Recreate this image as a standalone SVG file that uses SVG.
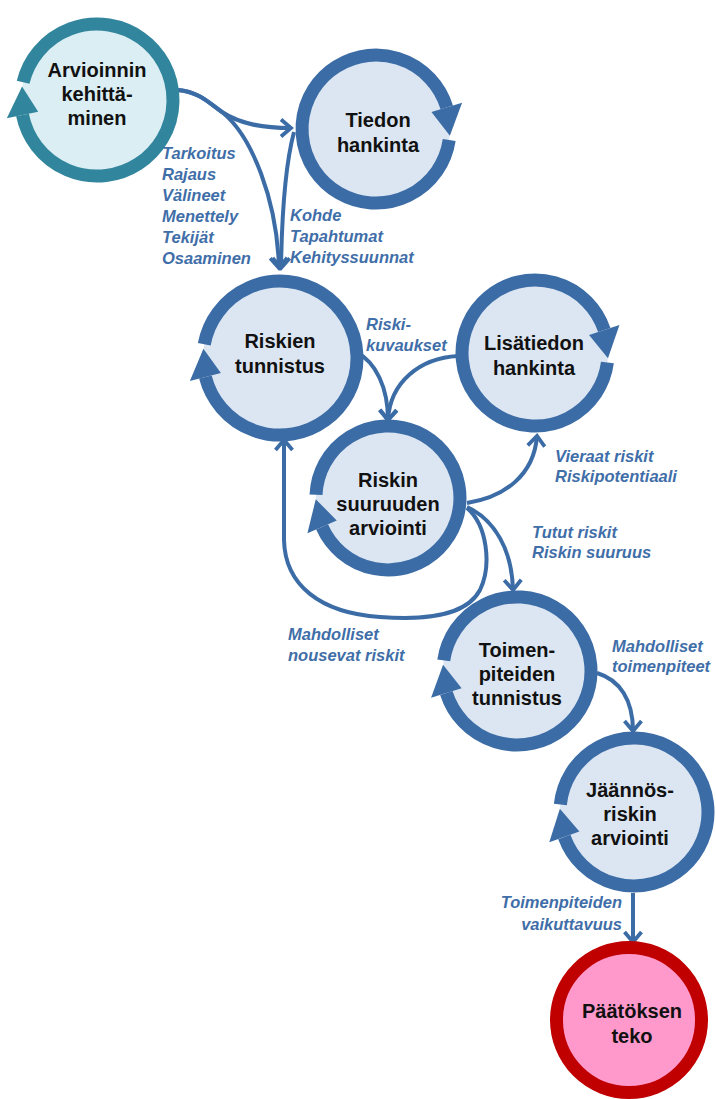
<svg xmlns="http://www.w3.org/2000/svg" width="716" height="1099" viewBox="0 0 716 1099">
  <style>
    .ring { fill: none; stroke-width: 13; }
    .blue { stroke: #3B6CA6; }
    .blue-fill { fill: #3B6CA6; }
    .disc { fill: #DCE6F2; stroke: none; }
    .teal { stroke: #31859C; }
    .teal-fill { fill: #31859C; }
    .node-text { font-family: "Liberation Sans", Arial, sans-serif; font-weight: bold; font-size: 20px; fill: #111; text-anchor: middle; }
    .label { font-family: "Liberation Sans", Arial, sans-serif; font-weight: bold; font-style: italic; font-size: 16.5px; fill: #3F6EA8; }
    .conn { fill: none; stroke: #3B6CA6; stroke-width: 4; stroke-linecap: butt; marker-end: url(#chev); }
  </style>
  <defs>
    <marker id="chev" viewBox="-14 -11 18 22" refX="0" refY="0" markerWidth="18" markerHeight="22" markerUnits="userSpaceOnUse" orient="auto" overflow="visible">
      <path d="M-10,-8.5 L0,0 L-10,8.5" fill="none" stroke="#3B6CA6" stroke-width="3.8" stroke-linejoin="miter"/>
    </marker>
  </defs>

  <rect width="716" height="1099" fill="#fff"/>

  <!-- connectors -->
  <g id="connectors">
    <path class="conn" d="M178,90 C200,92 210,104 222,112 C240,124 262,128 291,128"/>
    <path class="conn" d="M178,90 C200,92 210,104 222,112 C252,136 277,200 279,268"/>
    <path class="conn" d="M294,132 C286,162 282,205 281,268"/>
    <path class="conn" d="M356,352 C376,362 388,388 388,420"/>
    <path class="conn" d="M458,356 C420,358 390,382 388,420"/>
    <path class="conn" d="M467,503 C505,497 534,475 537,436"/>
    <path class="conn" d="M467,507 C495,520 512,550 513,590"/>
    <path class="conn" d="M467,508 C487,525 492,565 480,590 C465,618 420,620 380,617 C320,613 285,585 284,540 L284,440"/>
    <path class="conn" d="M597,673 C620,680 633,700 633,731"/>
    <path class="conn" d="M633,893 L633,942"/>
  </g>

  <!-- Arvioinnin kehittäminen -->
  <g id="node-arvioinnin">
    <circle cx="97" cy="100" r="76" fill="#DBEEF4"/>
    <g transform="translate(97,100) rotate(168.6)">
      <path class="ring teal" stroke-width="12" d="M68.9,32 A76,76 0 1 1 76,0"/>
      <polygon class="teal-fill" points="60,0 92,0 70.8,28"/>
    </g>
    <text class="node-text" x="97" y="77">Arvioinnin</text>
    <text class="node-text" x="97" y="101">kehittä-</text>
    <text class="node-text" x="97" y="125">minen</text>
  </g>

  <!-- Tiedon hankinta -->
  <g id="node-tiedon">
    <circle class="disc" cx="376" cy="129" r="74"/>
    <g transform="translate(376,129) rotate(-17)">
      <path class="ring blue" d="M66.8,31.9 A74,74 0 1 1 74,0"/>
      <polygon class="blue-fill" points="58,0 90,0 68.7,28"/>
    </g>
    <text class="node-text" x="378" y="127">Tiedon</text>
    <text class="node-text" x="378" y="152">hankinta</text>
  </g>

  <!-- Riskien tunnistus -->
  <g id="node-riskien">
    <circle class="disc" cx="280" cy="358" r="77"/>
    <g transform="translate(280,358) rotate(165.7)">
      <path class="ring blue" d="M70,32 A77,77 0 1 1 77,0"/>
      <polygon class="blue-fill" points="61,0 93,0 71.9,28"/>
    </g>
    <text class="node-text" x="280" y="348">Riskien</text>
    <text class="node-text" x="280" y="373">tunnistus</text>
  </g>

  <!-- Lisätiedon hankinta -->
  <g id="node-lisatiedon">
    <circle class="disc" cx="535" cy="353" r="73"/>
    <g transform="translate(535,353) rotate(-18.4)">
      <path class="ring blue" d="M65.7,31.9 A73,73 0 1 1 73,0"/>
      <polygon class="blue-fill" points="57,0 89,0 67.6,28"/>
    </g>
    <text class="node-text" x="534" y="350">Lisätiedon</text>
    <text class="node-text" x="534" y="375">hankinta</text>
  </g>

  <!-- Riskin suuruuden arviointi -->
  <g id="node-riskin">
    <circle class="disc" cx="388" cy="498" r="72"/>
    <g transform="translate(388,498) rotate(156.3)">
      <path class="ring blue" d="M64.6,31.9 A72,72 0 1 1 72,0"/>
      <polygon class="blue-fill" points="56,0 88,0 66.6,28"/>
    </g>
    <text class="node-text" x="388" y="487">Riskin</text>
    <text class="node-text" x="388" y="511">suuruuden</text>
    <text class="node-text" x="388" y="535">arviointi</text>
  </g>

  <!-- Toimenpiteiden tunnistus -->
  <g id="node-toimenpiteiden">
    <circle class="disc" cx="517" cy="671" r="74"/>
    <g transform="translate(517,671) rotate(162.7)">
      <path class="ring blue" d="M66.8,31.9 A74,74 0 1 1 74,0"/>
      <polygon class="blue-fill" points="58,0 90,0 68.7,28"/>
    </g>
    <text class="node-text" x="517" y="657">Toimen-</text>
    <text class="node-text" x="517" y="681">piteiden</text>
    <text class="node-text" x="517" y="705">tunnistus</text>
  </g>

  <!-- Jäännösriskin arviointi -->
  <g id="node-jaannos">
    <circle class="disc" cx="634" cy="812" r="74"/>
    <g transform="translate(634,812) rotate(160.3)">
      <path class="ring blue" d="M66.8,31.9 A74,74 0 1 1 74,0"/>
      <polygon class="blue-fill" points="58,0 90,0 68.7,28"/>
    </g>
    <text class="node-text" x="630" y="797">Jäännös-</text>
    <text class="node-text" x="630" y="821">riskin</text>
    <text class="node-text" x="630" y="845">arviointi</text>
  </g>

  <!-- Päätöksen teko -->
  <g id="node-paatos">
    <circle cx="629" cy="1020" r="72.5" fill="#FF99CC" stroke="#C00000" stroke-width="13"/>
    <text class="node-text" x="632" y="1018">Päätöksen</text>
    <text class="node-text" x="632" y="1043">teko</text>
  </g>

  <!-- connector labels -->
  <g id="labels">
    <text class="label" x="162" y="159">Tarkoitus</text>
    <text class="label" x="162" y="180">Rajaus</text>
    <text class="label" x="162" y="201">Välineet</text>
    <text class="label" x="162" y="222">Menettely</text>
    <text class="label" x="162" y="243">Tekijät</text>
    <text class="label" x="162" y="264">Osaaminen</text>

    <text class="label" x="290" y="221">Kohde</text>
    <text class="label" x="290" y="242">Tapahtumat</text>
    <text class="label" x="290" y="263">Kehityssuunnat</text>

    <text class="label" x="366" y="330">Riski-</text>
    <text class="label" x="366" y="351">kuvaukset</text>

    <text class="label" x="555" y="462">Vieraat riskit</text>
    <text class="label" x="555" y="482">Riskipotentiaali</text>

    <text class="label" x="532" y="538">Tutut riskit</text>
    <text class="label" x="532" y="558">Riskin suuruus</text>

    <text class="label" x="288" y="640">Mahdolliset</text>
    <text class="label" x="288" y="661">nousevat riskit</text>

    <text class="label" x="612" y="652">Mahdolliset</text>
    <text class="label" x="612" y="672">toimenpiteet</text>

    <text class="label" x="622" y="908" text-anchor="end">Toimenpiteiden</text>
    <text class="label" x="622" y="930" text-anchor="end">vaikuttavuus</text>
  </g>
</svg>
